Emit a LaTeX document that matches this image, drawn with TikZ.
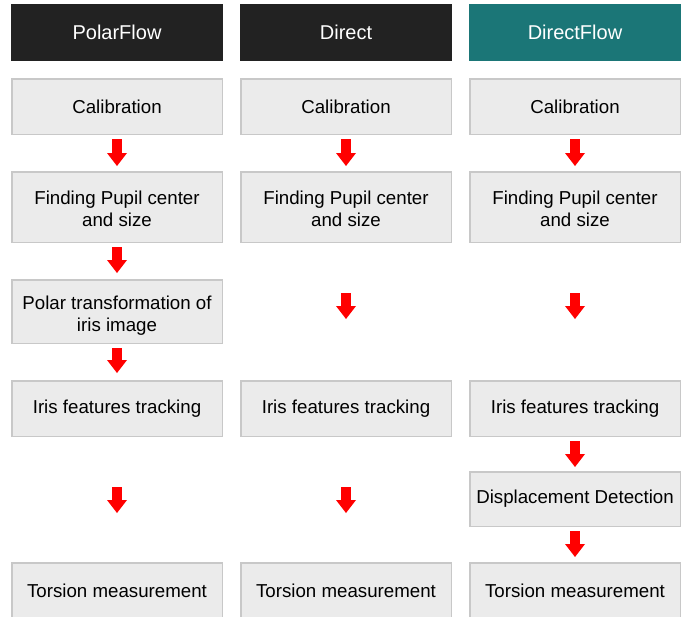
\documentclass[tikz,border=0pt]{standalone}
\usepackage{fontspec}
\setmainfont{Liberation Sans}
\usetikzlibrary{arrows.meta}
\definecolor{boxfill}{HTML}{EBEBEB}
\definecolor{boxline}{HTML}{C8C8C8}
\definecolor{headdark}{HTML}{222222}
\definecolor{headteal}{HTML}{1B7677}
\definecolor{arrred}{HTML}{FF0000}
\begin{document}
\begin{tikzpicture}[x=1pt,y=-1pt,
  stepbox/.style={draw=boxline, fill=boxfill, line width=1.5pt, minimum width=210.5pt, inner sep=0pt, align=center, font=\fontsize{18.7}{21.5}\selectfont},
  headbox/.style={minimum width=212pt, minimum height=57pt, inner sep=0pt, text=white, font=\fontsize{20}{24}\selectfont},
  flowarrow/.style={draw=arrred, line width=10pt, -{Triangle[width=20pt,length=13pt,line width=0pt]}}]
\useasboundingbox[fill=white] (0,0) rectangle (688,616);

% headers
\node[headbox, fill=headdark] (h1) at (117,32.5) {PolarFlow};
\node[headbox, fill=headdark] (h2) at (346,32.5) {Direct};
\node[headbox, fill=headteal] (h3) at (575,32.5) {DirectFlow};

% column 1
\node[stepbox, minimum height=55.5pt] (a1) at (117,106.5) {Calibration};
\node[stepbox, text height=39pt, minimum height=70.5pt] (a2) at (117,207) {Finding Pupil center\\and size};
\node[stepbox, text height=43pt, minimum height=63.5pt] (a3) at (117,311.5) {Polar transformation of\\iris image};
\node[stepbox, minimum height=55.5pt] (a4) at (117,408.5) {Iris features tracking};
\node[stepbox, minimum height=55.5pt] (a5) at (117,590.5) {Torsion measurement};

% column 2
\node[stepbox, minimum height=55.5pt] (b1) at (346,106.5) {Calibration};
\node[stepbox, text height=39pt, minimum height=70.5pt] (b2) at (346,207) {Finding Pupil center\\and size};
\node[stepbox, minimum height=55.5pt] (b4) at (346,408.5) {Iris features tracking};
\node[stepbox, minimum height=55.5pt] (b5) at (346,590.5) {Torsion measurement};

% column 3
\node[stepbox, minimum height=55.5pt] (c1) at (575,106.5) {Calibration};
\node[stepbox, text height=39pt, minimum height=70.5pt] (c2) at (575,207) {Finding Pupil center\\and size};
\node[stepbox, minimum height=55.5pt] (c4) at (575,408.5) {Iris features tracking};
\node[stepbox, minimum height=54.5pt] (c5) at (575,499) {Displacement Detection};
\node[stepbox, minimum height=55.5pt] (c6) at (575,590.5) {Torsion measurement};

% free arrow ends
\coordinate (fa1) at (117,487);
\coordinate (fa2) at (117,513);
\coordinate (fb1) at (346,293);
\coordinate (fb2) at (346,319);
\coordinate (fb3) at (346,487);
\coordinate (fb4) at (346,513);
\coordinate (fc1) at (575,293);
\coordinate (fc2) at (575,319);

% arrows
\draw[flowarrow] ([yshift=-4pt]a1.south) -- ([yshift=5pt]a2.north);
\draw[flowarrow] ([yshift=-4pt]a2.south) -- ([yshift=6pt]a3.north);
\draw[flowarrow] ([yshift=-4pt]a3.south) -- ([yshift=7pt]a4.north);
\draw[flowarrow] (fa1) -- (fa2);

\draw[flowarrow] ([yshift=-4pt]b1.south) -- ([yshift=5pt]b2.north);
\draw[flowarrow] (fb1) -- (fb2);
\draw[flowarrow] (fb3) -- (fb4);

\draw[flowarrow] ([yshift=-4pt]c1.south) -- ([yshift=5pt]c2.north);
\draw[flowarrow] (fc1) -- (fc2);
\draw[flowarrow] ([yshift=-4pt]c4.south) -- ([yshift=4pt]c5.north);
\draw[flowarrow] ([yshift=-4pt]c5.south) -- ([yshift=5pt]c6.north);
\end{tikzpicture}
\end{document}
